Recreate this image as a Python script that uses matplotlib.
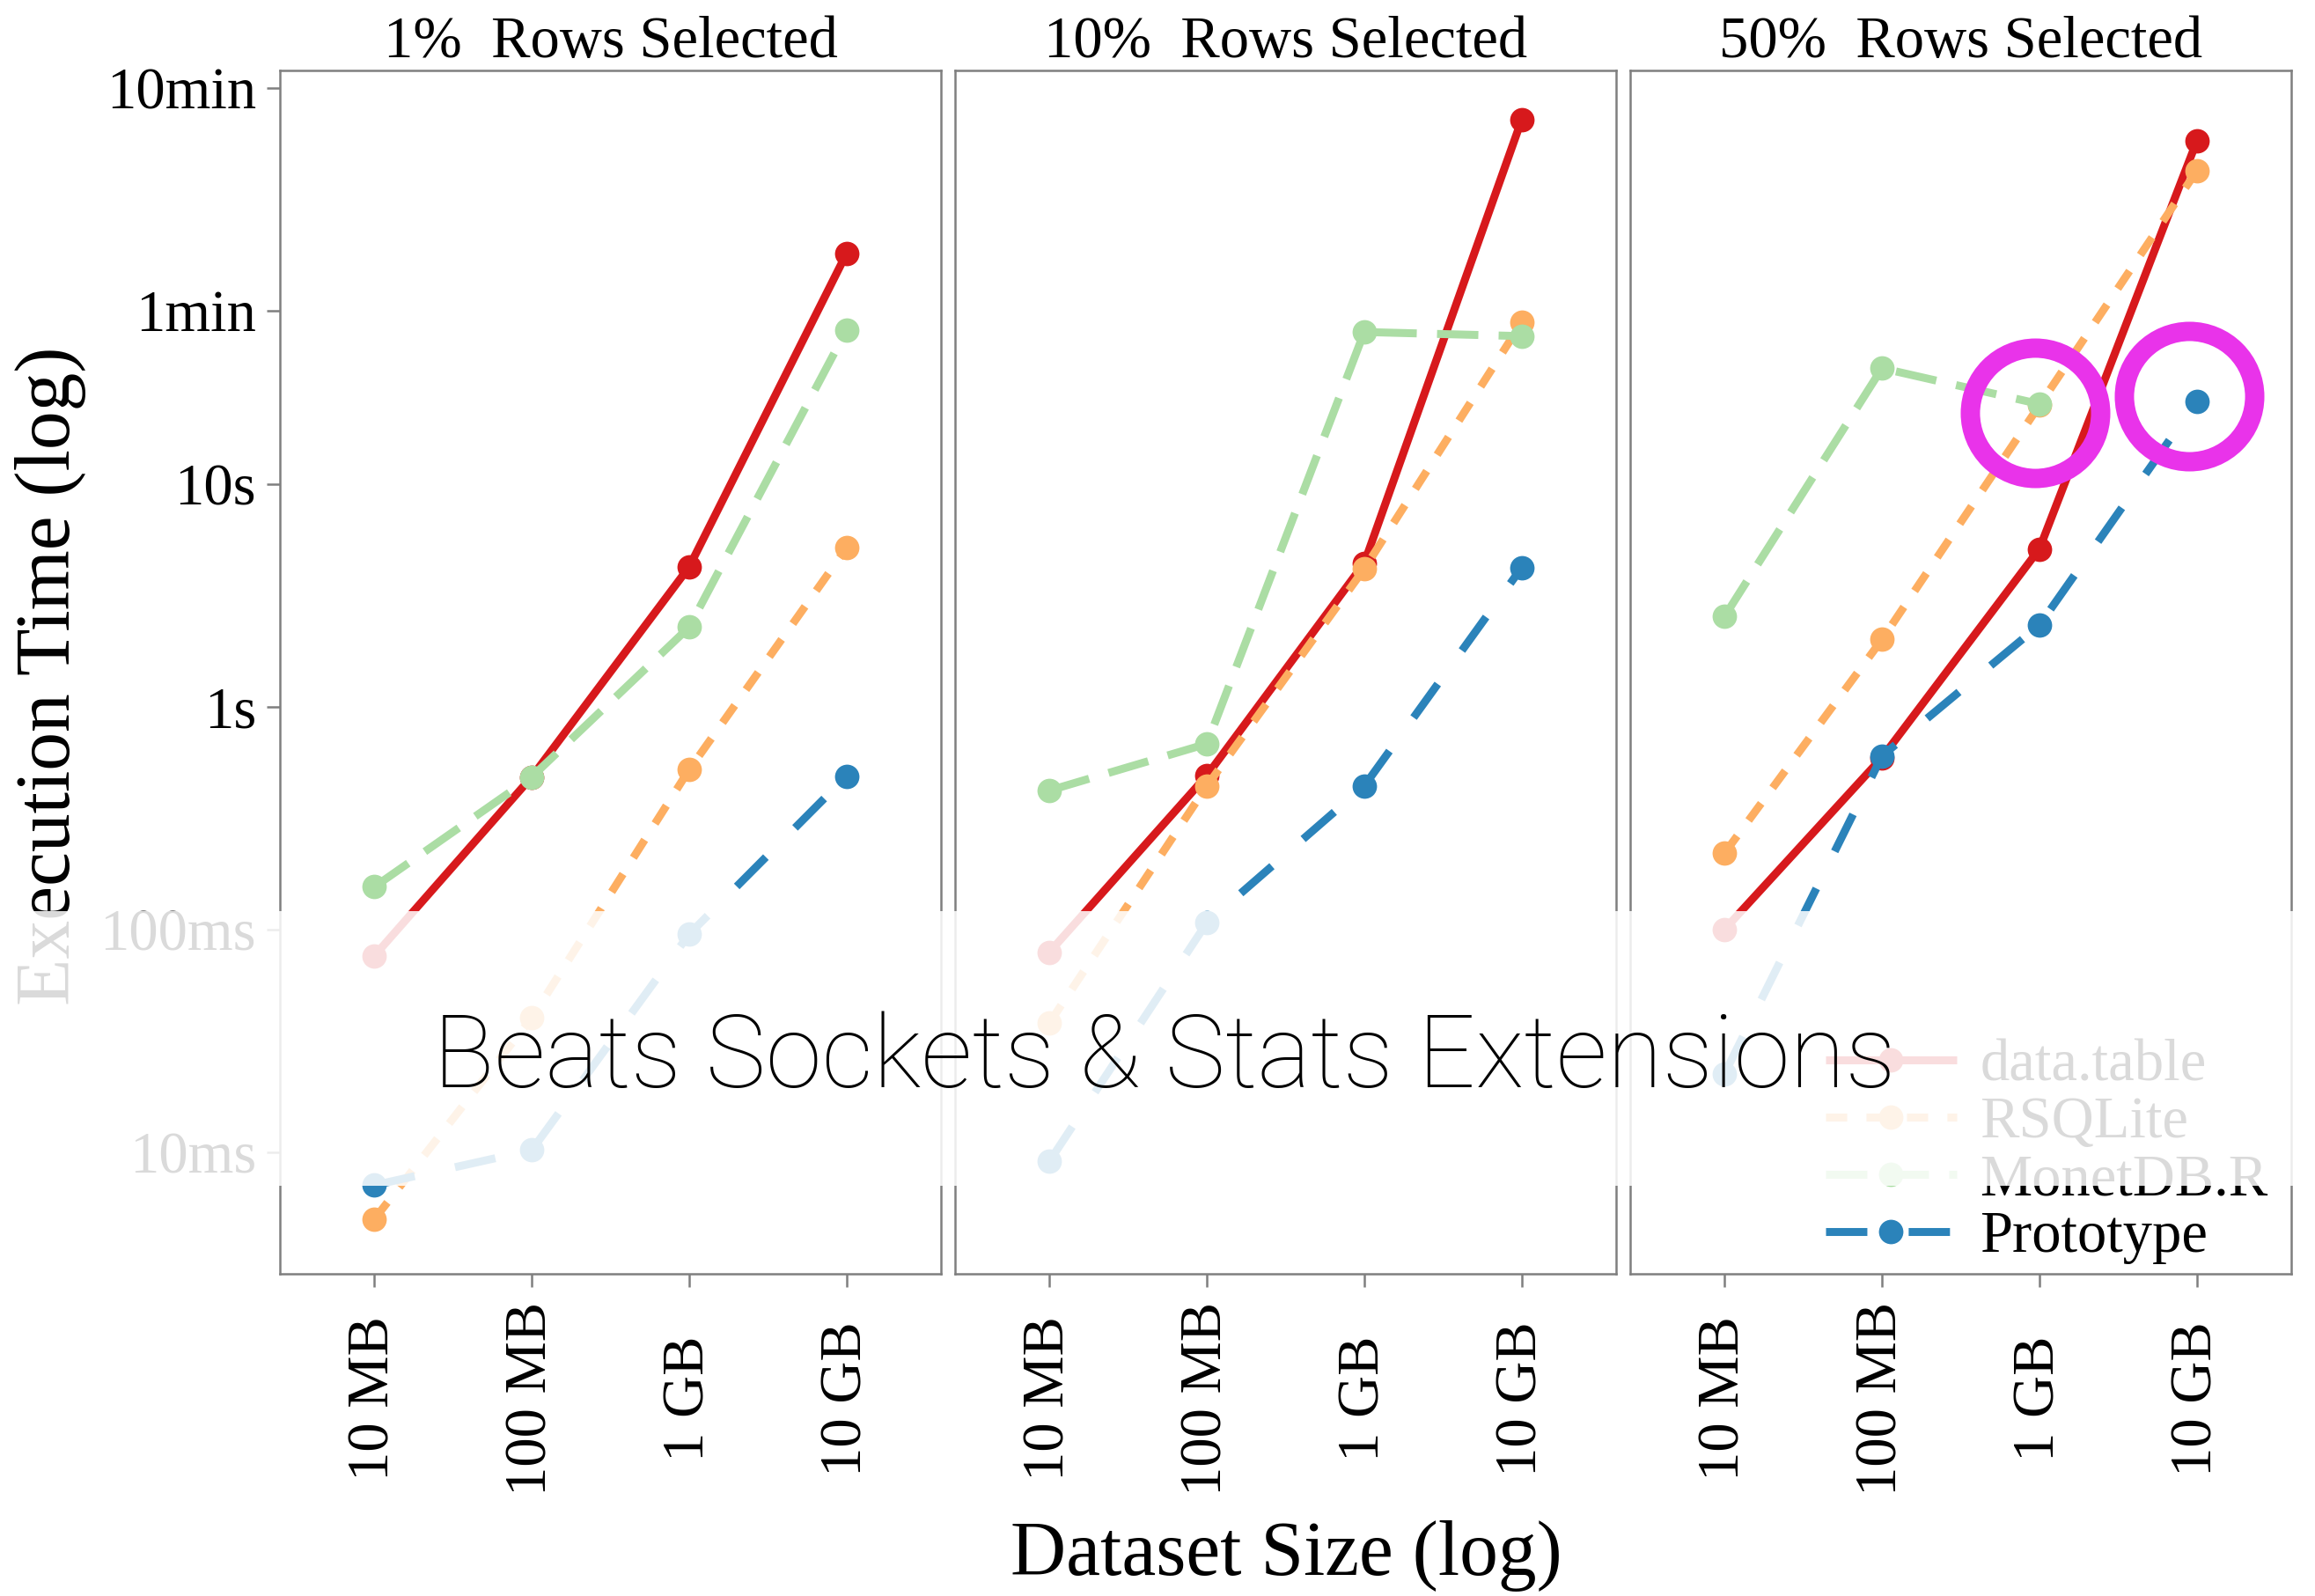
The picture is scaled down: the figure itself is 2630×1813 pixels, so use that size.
import numpy as np
import matplotlib
matplotlib.use('Agg')
import matplotlib.pyplot as plt
from matplotlib.patches import Rectangle
from matplotlib.ticker import NullLocator

plt.rcParams['font.family'] = ['Liberation Serif', 'DejaVu Serif']
plt.rcParams['lines.scale_dashes'] = False

# ---------------- data ----------------
sizes = ['10 MB', '100 MB', '1 GB', '10 GB']
panels = ['1%  Rows Selected', '10%  Rows Selected', '50%  Rows Selected']
series = ['data.table', 'RSQLite', 'MonetDB.R', 'Prototype']
colors = ['#D7191C', '#FDAE61', '#ABDDA4', '#2B83BA']

# execution time in seconds, one list per panel (1%, 10%, 50%)
datatable = [[0.076, 0.483, 4.23, 108], [0.079, 0.49, 4.4, 430], [0.10, 0.59, 5.1, 345]]
rsqlite = [[0.005, 0.040, 0.52, 5.15], [0.038, 0.44, 4.15, 53], [0.22, 2.0, 22.5, 254]]
monetdb = [[0.155, 0.483, 2.27, 49], [0.42, 0.68, 48, 46], [2.54, 33, 22.8, np.nan]]
prototype = [[0.0071, 0.0102, 0.095, 0.487], [0.0091, 0.107, 0.44, 4.2], [0.0225, 0.60, 2.32, 23.5]]

ytick_vals = [0.01, 0.1, 1, 10, 60, 600]
ytick_labels = ['10ms', '100ms', '1s', '10s', '1min', '10min']

# highlighted points (panel 50%)
ring_x = [2.97, 3.95]
ring_y = [20.9, 24.7]

overlay_text = 'Beats Sockets & Stats Extensions'

# ---------------- style ----------------
all_data = [datatable, rsqlite, monetdb, prototype]
styles = ['-', (0, (17.3, 15.8)), (0, (33.8, 16.6)), (0, (33.8, 33.8))]
grey = '#7f7f7f'

W, H = 2630, 1813
fig = plt.figure(figsize=(W / 100, H / 100), dpi=100)
panel_left = [318, 1085, 1852]
panel_w = 751
top, bottom = 80, 1447

x = np.arange(1, len(sizes) + 1)
axes = []
for i, left in enumerate(panel_left):
    ax = fig.add_axes([left / W, 1 - bottom / H, panel_w / W, (bottom - top) / H])
    axes.append(ax)
    ax.set_yscale('log')
    ax.set_ylim(0.00284, 717)
    ax.set_xlim(0.4, 4.6)
    for s, (vals, col, ls) in enumerate(zip(all_data, colors, styles)):
        ax.plot(x, vals[i], color=col, lw=6.5, linestyle=ls, marker='o', ms=20,
                mew=0, solid_capstyle='butt', dash_capstyle='butt',
                label=series[s], zorder=2 + s * 0.1)
    ax.set_xticks(x)
    ax.set_xticklabels(sizes, rotation=90, ha='center', va='center', fontsize=48)
    ax.tick_params(axis='x', length=10.8, width=1.8, color=grey, pad=91.4)
    ax.yaxis.set_minor_locator(NullLocator())
    if i == 0:
        ax.set_yticks(ytick_vals)
        ax.set_yticklabels(ytick_labels, fontsize=48)
        ax.tick_params(axis='y', length=10.8, width=1.8, color=grey, pad=8.6)
    else:
        ax.set_yticks(ytick_vals)
        ax.tick_params(axis='y', left=False, labelleft=False)
    for sp in ax.spines.values():
        sp.set_color(grey)
        sp.set_linewidth(1.8)
    ax.set_title(panels[i], fontsize=48, pad=10.8)

ax3 = axes[2]
ax3.plot(ring_x, ring_y, ls='none', marker='o', ms=106.6, mfc='none',
         mec='#E933EA', mew=15.8, zorder=6)

handles = ax3.get_lines()[:4]
ax3.legend(handles, series, loc='center left',
           bbox_to_anchor=(2074 / W, 1 - 1308 / H), bbox_transform=fig.transFigure,
           frameon=False, fontsize=48, handlelength=2.23, handletextpad=0.4,
           labelspacing=0.06, borderpad=0, borderaxespad=0)

fig.text(58 / W, 1 - 768 / H, 'Execution Time (log)', rotation=90, fontsize=63,
         ha='center', va='center')
fig.text(1461 / W, 1 - 1768 / H, 'Dataset Size (log)', fontsize=63,
         ha='center', va='center')

band = Rectangle((0, 1 - 1347 / H), 1, 312 / H, transform=fig.transFigure,
                 facecolor='white', alpha=0.86, edgecolor='none', zorder=5)
fig.add_artist(band)
fig.text(1323 / W, 1 - 1203 / H, overlay_text, fontsize=83, family=['Roboto', 'DejaVu Sans'],
         fontweight='light', ha='center', va='center', zorder=6)

fig.savefig('out.png', dpi=100)
